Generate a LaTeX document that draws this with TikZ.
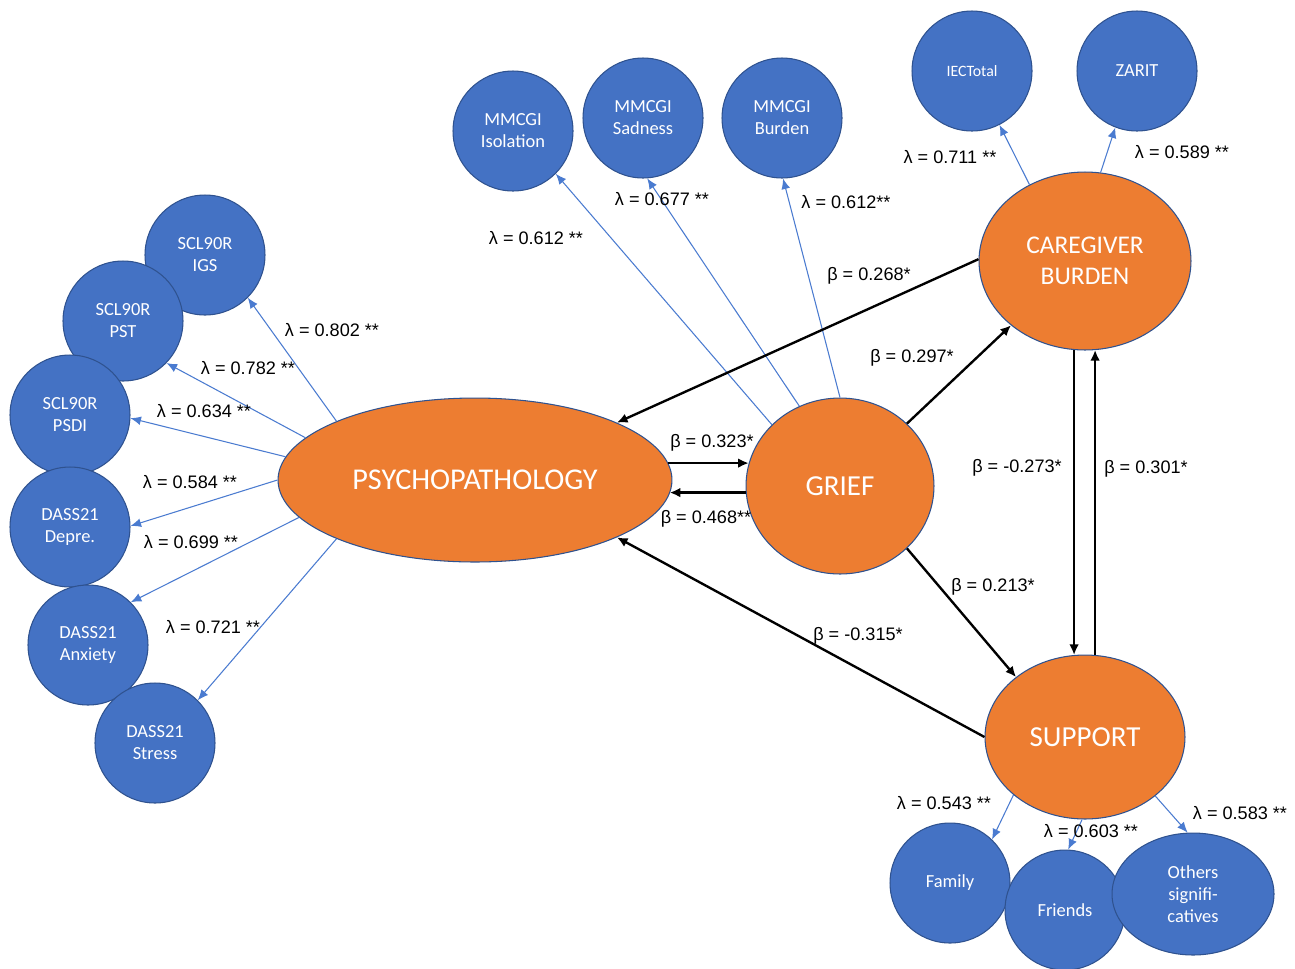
\documentclass[tikz,border=0pt]{standalone}
\usepackage{fontspec}
\setmainfont{Liberation Sans}
\newfontfamily\carl{Carlito}
\usetikzlibrary{arrows.meta,shapes.geometric,calc}
\definecolor{bfill}{HTML}{4472C4}
\definecolor{bdraw}{HTML}{2F528F}
\definecolor{ofill}{HTML}{ED7D31}
\definecolor{bline}{HTML}{4A7BD0}
\begin{document}
\begin{tikzpicture}[x=0.02cm,y=-0.02cm,
  ind/.style={circle,fill=bfill,draw=bdraw,line width=0.6pt,minimum size=2.4cm,inner sep=0pt,text=white,align=center,font=\carl\fontsize{10.5}{12.5}\selectfont},
  lat/.style={ellipse,fill=ofill,draw=bdraw,line width=0.6pt,inner sep=0pt,text=white,align=center,font=\carl\fontsize{16.5}{18}\selectfont},
  load/.style={draw=bline,line width=0.6pt,-{Latex[length=6pt,width=5pt]}},
  struct/.style={draw=black,line width=1.35pt,-{Latex[length=6pt,width=5.5pt]}},
  lab/.style={font=\fontsize{10.3}{12}\selectfont,inner sep=0pt}]
\fill[white] (0,0) rectangle (1295,968);
\useasboundingbox (0,0) rectangle (1295,968);

% latent variables
\node[lat,minimum width=7.88cm,minimum height=3.28cm,font=\carl\fontsize{17.2}{18}\selectfont] (psy) at (475,480) {PSYCHOPATHOLOGY};
\node[lat,minimum width=3.76cm,minimum height=3.52cm] (grief) at (840,486) {GRIEF};
\node[lat,minimum width=4.24cm,minimum height=3.56cm,font=\carl\fontsize{14.5}{17.6}\selectfont] (cg) at (1085,261) {CAREGIVER\\BURDEN};
\node[lat,minimum width=4.0cm,minimum height=3.28cm] (sup) at (1085,737) {SUPPORT};

% indicators
\node[ind] (igs) at (205,255) {SCL90R\\IGS};
\node[ind] (pst) at (123,321) {SCL90R\\PST};
\node[ind] (psdi) at (70,415) {SCL90R\\PSDI};
\node[ind] (dep) at (70,527) {DASS21\\Depre.};
\node[ind] (anx) at (88,645) {DASS21\\Anxiety};
\node[ind] (str) at (155,743) {DASS21\\Stress};
\node[ind] (iso) at (513,131) {MMCGI\\Isolation};
\node[ind] (sad) at (643,118) {MMCGI\\Sadness};
\node[ind] (bur) at (782,118) {MMCGI\\Burden};
\node[ind,font=\carl\fontsize{9}{11}\selectfont] (iec) at (972,71) {IECTotal};
\node[ind] (zar) at (1137,71) {ZARIT};
\node[ind] (fam) at (950,883) {Family};
\node[ind] (fri) at (1065,910) {Friends};
\node[ind,ellipse,minimum width=3.24cm,minimum height=2.44cm] (oth) at (1193,894) {Others\\signifi-\\catives};

% loadings
\draw[load] (psy.157) -- (igs.-45);
\draw[load] (psy.166) -- (pst.-44);
\draw[load] (psy.173) -- (psdi.-3);
\draw[load] (psy.180) -- (dep.1);
\draw[load] (psy.192) -- (anx.45);
\draw[load] (psy.203) -- (str.45);
\draw[load] (grief.138) -- (iso.-45);
\draw[load] (grief.117) -- (sad.-86);
\draw[load] (grief.90) -- (bur.-89);
\draw[load] (cg.126) -- (iec.-63);
\draw[load] (cg.80) -- (zar.-111);
\draw[load] (sup.219) -- (fam.46);
\draw[load] (sup.-92) -- (fri.87);
\draw[load] (sup.-40) -- (oth.95);

% structural paths
\draw[struct] (cg.179) -- (psy.22);
\draw[struct] (grief.43) -- (cg.221);
\draw[struct] (psy.5) -- (grief.166 |- psy.5);
\draw[struct] (grief.184) -- (psy.356 |- grief.184);
\draw[struct] (grief.-43) -- (sup.139);
\draw[struct] (sup.180) -- (psy.-22);
\draw[struct] (cg.-97) -- (cg.-97 |- sup.97);
\draw[struct] (sup.83) -- (sup.83 |- cg.-83);

% labels
\node[lab] (b1) at (869,276) {β = 0.268*};
\node[lab] (b2) at (912,358) {β = 0.297*};
\node[lab] (b3) at (712,443) {β = 0.323*};
\node[lab] (b4) at (706,519) {β = 0.468**};
\node[lab] (b5) at (993,587) {β = 0.213*};
\node[lab] (b6) at (858,636) {β = -0.315*};
\node[lab] (b7) at (1017,468) {β = -0.273*};
\node[lab] (b8) at (1146,469) {β = 0.301*};
\node[lab] (l1) at (332,330) {λ = 0.802 **};
\node[lab] (l2) at (248,368) {λ = 0.782 **};
\node[lab] (l3) at (204,411) {λ = 0.634 **};
\node[lab] (l4) at (190,482) {λ = 0.584 **};
\node[lab] (l5) at (191,542) {λ = 0.699 **};
\node[lab] (l6) at (213,627) {λ = 0.721 **};
\node[lab] (l7) at (536,238) {λ = 0.612 **};
\node[lab] (l8) at (662,199) {λ = 0.677 **};
\node[lab] (l9) at (846,202) {λ = 0.612**};
\node[lab] (l10) at (950,157) {λ = 0.711 **};
\node[lab] (l11) at (1182,152) {λ = 0.589 **};
\node[lab] (l12) at (944,803) {λ = 0.543 **};
\node[lab] (l13) at (1091,831) {λ = 0.603 **};
\node[lab] (l14) at (1240,813) {λ = 0.583 **};
\end{tikzpicture}
\end{document}
